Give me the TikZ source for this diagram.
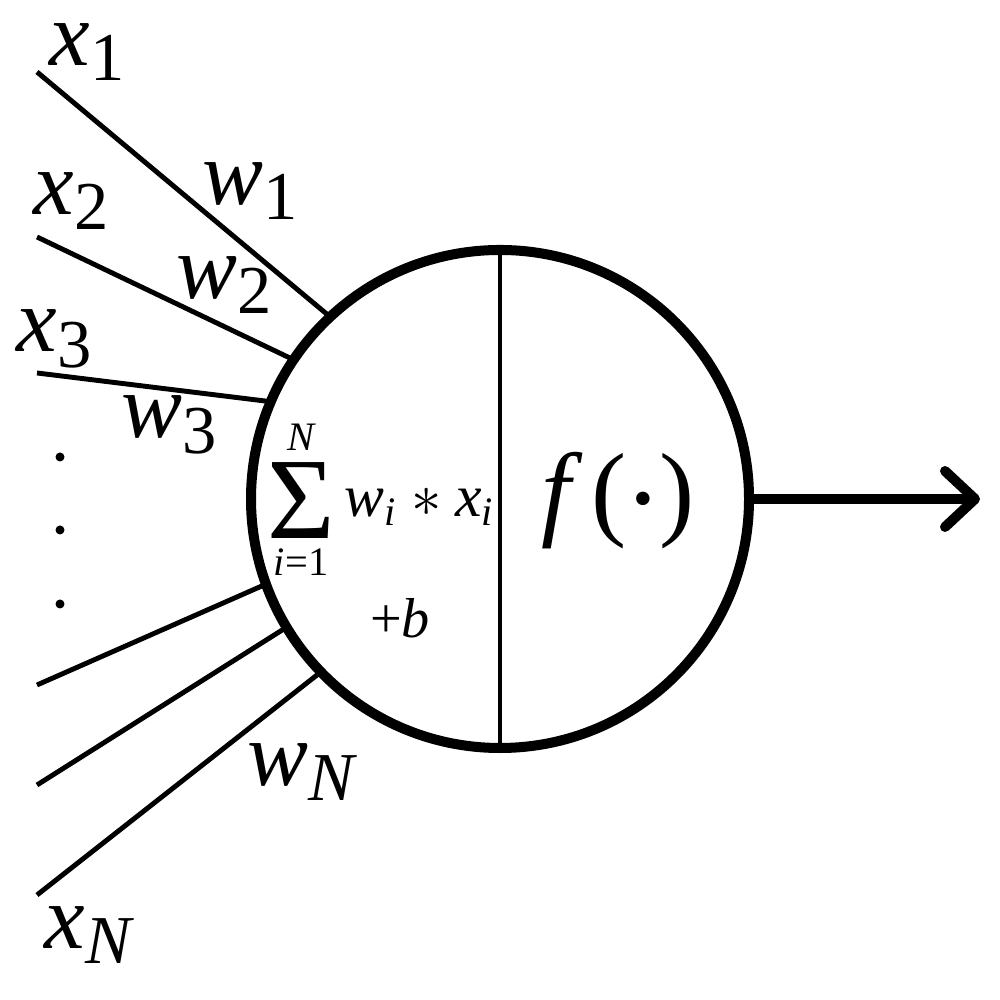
\documentclass[tikz,border=0pt]{standalone}
\usepackage{amsmath}
\usepackage{fontspec}
\setmainfont{Liberation Serif}
\usepackage{tikz}
\usetikzlibrary{arrows.meta}
\DeclareMathSizes{26}{26}{19.5}{14}
\DeclareMathSizes{17}{17}{11.5}{9}

\begin{document}
\begin{tikzpicture}[
    neuron/.style={draw, circle, line width=2.85pt, minimum size=4.98cm,
                   inner sep=0pt, outer sep=0pt},
    lbl/.style={inner sep=0pt, font=\fontsize{26}{30}\selectfont},
    inp/.style={line width=1.4pt},
    arr/.style={-{Straight Barb[length=3mm, width=5.6mm, line cap=round,
                line join=round]}, line width=2.85pt},
]
\useasboundingbox (0,0) rectangle (10,10);

\node[neuron] (neuron) at (5, 5.01) {};
\draw[line width=1.1pt] (neuron.north) -- (neuron.south);

% free ends of the inputs
\coordinate (in1) at (0.37, 9.28);
\coordinate (in2) at (0.37, 7.63);
\coordinate (in3) at (0.37, 6.27);
\coordinate (in4) at (0.37, 3.15);
\coordinate (in5) at (0.37, 2.15);
\coordinate (in6) at (0.37, 1.05);
\coordinate (out) at (9.8, 5.01);

\draw[inp] (in1) -- (neuron.133);
\draw[inp] (in2) -- (neuron.146);
\draw[inp] (in3) -- (neuron.157);
\draw[inp] (in4) -- (neuron.200);
\draw[inp] (in5) -- (neuron.211);
\draw[inp] (in6) -- (neuron.224.5);

\foreach \y in {5.43, 4.70, 3.96}
    \fill (0.6, \y) circle (0.045);

\draw[arr] (neuron.east) -- (out);

% labels
\node[lbl] (x1) at (0.88, 9.48) {$\textit{x}_{\text{1}}$};
\node[lbl] (w1) at (2.51, 8.09) {$\textit{w}_{\text{1}}$};
\node[lbl] (x2) at (0.72, 7.99) {$\textit{x}_{\text{2}}$};
\node[lbl] (w2) at (2.25, 7.15) {$\textit{w}_{\text{2}}$};
\node[lbl] (x3) at (0.55, 6.61) {$\textit{x}_{\text{3}}$};
\node[lbl] (w3) at (1.70, 5.75) {$\textit{w}_{\text{3}}$};
\node[lbl] (wN) at (3.02, 2.28) {$\textit{w}_{\textit{N}}$};
\node[lbl] (xN) at (0.89, 0.65) {$\textit{x}_{\textit{N}}$};

\node[inner sep=0pt, font=\fontsize{17}{20}\selectfont] (sum) at (3.81, 5.00)
    {$\displaystyle\mathop{\vcenter{\hbox{\fontsize{33}{33}\selectfont Σ}}}%
     \limits_{\textit{i}\text{=1}}^{\textit{N}}
     \textit{w}_{\textit{i}} * \textit{x}_{\textit{i}}$};
\node[inner sep=0pt, font=\fontsize{16}{19}\selectfont] (bias) at (4.00, 3.82)
    {+\textit{b}};
\node[inner sep=0pt, font=\fontsize{30}{34}\selectfont] (act) at (6.18, 4.99)
    {\textit{f}\kern0.08em(\kern0.06em$\vcenter{\hbox{\fontsize{16}{16}\selectfont\textbullet}}$\kern0.06em)};

\end{tikzpicture}
\end{document}
